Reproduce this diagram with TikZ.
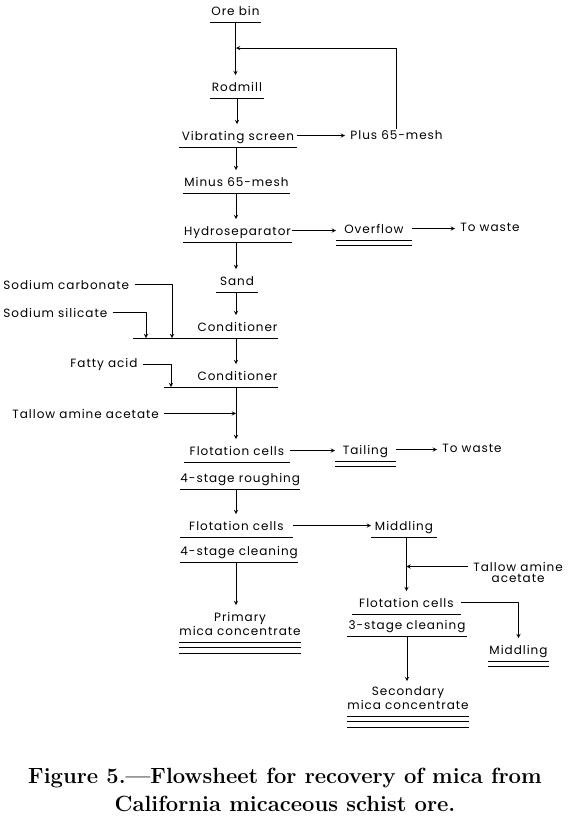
\documentclass[tikz,border=0pt]{standalone}
\usepackage{fontspec}
\usetikzlibrary{positioning}
\newfontfamily\flowfont[LetterSpace=8]{Poppins}
\tikzset{
  stage/.style={anchor=south west,inner xsep=0pt,inner ysep=6pt,text height=10pt,text depth=0pt,align=center},
  feed/.style={anchor=base west,inner xsep=5pt,inner ysep=1pt},
}
\begin{document}
\begin{tikzpicture}[x=1pt,y=-1pt,>=stealth,line join=round,line width=0.9pt,font=\flowfont\fontsize{12}{14}\selectfont]
\useasboundingbox (0,0) rectangle (569,823);
% main line
\node[stage,minimum width=50pt] (orebin) at (210,22) {Ore bin};
\node[stage,minimum width=53pt] (rodmill) at (210,98) {Rodmill};
\node[stage,minimum width=117pt] (screen) at (179,147) {Vibrating screen};
\node[feed] (plus) at (345,139) {Plus 65-mesh};
\node[stage,minimum width=106pt] (minus) at (183,193) {Minus 65-mesh};
\node[stage,minimum width=108pt] (hydro) at (183,242) {Hydroseparator};
\node[stage,minimum width=75pt] (overflow) at (336,240) {Overflow};
\node[feed] (waste1) at (455,231) {To waste};
\node[stage,minimum width=41pt] (sand) at (216,292) {Sand};
\coordinate (spine) at (236,0);
\coordinate (merge) at (236,48);
% reagents
\node[stage,text width=144pt,align=right] (cond1) at (133,338) {Conditioner};
\node[feed] (carb) at (-2,289) {Sodium carbonate};
\node[feed] (silic) at (-2,317) {Sodium silicate};
\node[stage,text width=113pt,align=right] (cond2) at (164,387) {Conditioner};
\node[feed] (fatty) at (65,367) {Fatty acid};
\node[feed] (tallow1) at (7,418) {Tallow amine acetate};
% flotation
\node[stage,minimum width=105pt] (rough1) at (184,462) {Flotation cells};
\node[stage,minimum width=116pt] (rough2) at (180,489) {4-stage roughing};
\node[stage,minimum width=60pt] (tailing) at (335,461) {Tailing};
\node[feed] (waste2) at (437,452) {To waste};
\node[stage,minimum width=112pt] (clean1) at (180,537) {Flotation cells};
\node[stage,minimum width=116pt] (clean2) at (180,562) {4-stage cleaning};
\node[stage,minimum width=65pt] (midd1) at (371,537) {Middling};
\node[feed] (tallow2) at (468,571) {Tallow amine};
\node[feed,below=0pt of tallow2] (tallow2b) {acetate};
\node[stage,minimum width=108pt] (third1) at (352,614) {Flotation cells};
\node[stage,minimum width=119pt] (third2) at (347,636) {3-stage cleaning};
\node[stage,minimum width=60pt] (midd2) at (488,661) {Middling};
\node[stage,minimum width=118pt,text height=24pt] (primary) at (179,642) {Primary\\mica concentrate};
\node[stage,minimum width=119pt,text height=22pt] (second) at (347,716) {Secondary\\mica concentrate};
% underlines
\foreach \n in {orebin,rodmill,screen,minus,hydro,overflow,sand,cond1,cond2,rough1,rough2,tailing,clean1,clean2,midd1,third1,third2,midd2,primary,second}
  \draw (\n.south west) -- (\n.south east);
\foreach \n in {overflow,tailing,midd2,primary,second}
  \draw ([yshift=-5.5pt]\n.south west) -- ([yshift=-5.5pt]\n.south east);
\foreach \n in {primary,second}
  \draw ([yshift=-11pt]\n.south west) -- ([yshift=-11pt]\n.south east);
% flow
\draw[->] (orebin.south) -- (orebin.south |- rodmill.north);
\draw[->] (plus.north) |- (merge);
\draw[->] (rodmill.south) -- (rodmill.south |- screen.north);
\draw[->] (screen.east) -- (screen.east -| plus.west);
\draw[->] (screen.south -| spine) -- (spine |- minus.north);
\draw[->] (minus.south -| spine) -- (spine |- hydro.north);
\draw[->] (hydro.east) -- (hydro.east -| overflow.west);
\draw[->] (overflow.east) -- (overflow.east -| waste1.west);
\draw[->] (hydro.south -| spine) -- (spine |- sand.north);
\draw[->] (sand.south -| spine) -- (spine |- cond1.north);
\draw[->] (carb.east) -| ([xshift=39pt]cond1.south west);
\draw[->] (silic.east) -| ([xshift=13pt]cond1.south west);
\draw[->] (cond1.south -| spine) -- (spine |- cond2.north);
\draw[->] (fatty.east) -| ([xshift=7pt]cond2.south west);
\draw (cond2.south -| spine) -- (spine |- tallow1.east);
\draw[->] (tallow1.east) -- (tallow1.east -| spine);
\draw[->] (spine |- tallow1.east) -- (spine |- rough1.north);
\draw[->] (rough1.east) -- (rough1.east -| tailing.west);
\draw[->] (tailing.east) -- (tailing.east -| waste2.west);
\draw[->] (rough2.south -| spine) -- (spine |- clean1.north);
\draw[->] (clean1.east) -- (clean1.east -| midd1.west);
\draw[->] (clean2.south -| spine) -- (spine |- primary.north);
\draw (midd1.south -| third1.north) -- (third1.north |- tallow2.west);
\draw[->] (tallow2.west) -- (tallow2.west -| third1.north);
\draw[->] (third1.north |- tallow2.west) -- (third1.north);
\draw[->] (third1.east) -| (midd2.north);
\draw[->] (third2.south) -- (third2.south |- second.north);
% caption
\node[anchor=north,align=center,font=\fontsize{22}{28}\selectfont\bfseries] (caption) at (285,764) {Figure 5.---Flowsheet for recovery of mica from\\California micaceous schist ore.};
\end{tikzpicture}
\end{document}
